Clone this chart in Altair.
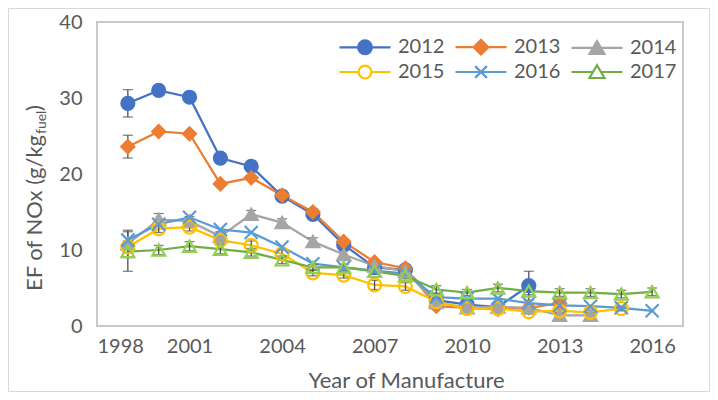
import altair as alt
import pandas as pd

# ---------------- data ----------------
years = list(range(1999, 2017))
series_names = ["2012", "2013", "2014", "2015", "2016", "2017"]

s2012 = [29.3, 31.0, 30.1, 22.1, 21.0, 17.1, 14.7, 10.7, 7.7, 7.4, 3.4, 2.8, 2.5, 5.3]
s2013 = [23.6, 25.6, 25.3, 18.7, 19.5, 17.2, 15.0, 11.1, 8.4, 7.6, 2.6, 2.4, 2.2, 2.4, 3.0]
s2014 = [10.8, 14.0, 13.8, 11.8, 14.7, 13.6, 11.1, 9.4, 7.9, 7.2, 3.1, 2.4, 2.5, 2.4, 1.4, 1.4]
s2015 = [10.4, 12.8, 13.0, 11.3, 10.6, 9.5, 7.0, 6.7, 5.4, 5.2, 3.2, 2.3, 2.3, 1.9, 2.0, 1.8, 2.3]
s2016 = [11.3, 13.4, 14.3, 12.7, 12.3, 10.4, 8.2, 7.7, 7.3, 6.9, 3.8, 3.6, 3.6, 3.0, 2.7, 2.6, 2.4, 2.0]
s2017 = [9.8, 10.0, 10.5, 10.1, 9.7, 8.7, 7.7, 7.7, 7.2, 6.6, 4.8, 4.4, 5.0, 4.6, 4.4, 4.4, 4.2, 4.5]

e2012 = [1.8, 0, 0, 0, 0, 0, 0, 0, 0, 0, 0, 0, 0, 1.9]
e2013 = [1.5, 0, 0, 0, 0, 0, 0, 0, 0, 0, 0, 0, 0, 0, 0]
e2014 = [1.8, 0.8, 0.6, 0.6, 0.5, 0.5, 0.5, 0.5, 0.5, 0.5, 0.5, 0.4, 0.4, 0.4, 0.3, 0.3]
e2015 = [0.8, 0.5, 0.5, 0.5, 0.6, 0.5, 0.4, 0.4, 0.6, 0.5, 0.4, 0.3, 0.3, 0.3, 0.3, 0.3, 0.3]
e2016 = [0] * 18
e2017 = [2.6, 0.6, 0.6, 0.6, 0.5, 0.5, 0.4, 0.4, 0.4, 0.4, 0.5, 0.4, 0.5, 0.5, 0.5, 0.5, 0.5, 0.5]

x_ticks = list(range(1998, 2017, 3))
y_ticks = [0, 10, 20, 30, 40]

# ---------------- styles ----------------
line_colors = ["#4472C4", "#ED7D31", "#A5A5A5", "#FFC000", "#5B9BD5", "#70AD47"]
marker_strokes = ["#4472C4", "#ED7D31", "#A5A5A5", "#FFC000", "#5B9BD5", "#92D050"]
marker_fills = ["#4472C4", "#ED7D31", "#A5A5A5", "transparent", "transparent", "transparent"]
marker_shapes = ["circle", "diamond", "triangle-up", "circle",
                 "M-1,-1L1,1M-1,1L1,-1", "triangle-up"]
legend_fills = ["#4472C4", "#ED7D31", "#A5A5A5", "white", "white", "white"]
legend_strokes = ["#4472C4", "#ED7D31", "#A5A5A5", "#FFC000", "#5B9BD5", "#70AD47"]
# legend symbols: a line through a marker (unit = 7.5 px, line = 51 px long)
legend_paths = [
    "M-3.4,0L-0.92,0M0.92,0L3.4,0M-0.92,0A0.92,0.92,0,1,1,0.92,0A0.92,0.92,0,1,1,-0.92,0Z",
    "M-3.4,0L3.4,0M0,-0.97L0.97,0L0,0.97L-0.97,0Z",
    "M-3.4,0L3.4,0M0,-0.9L1,0.8L-1,0.8Z",
    "M-3.4,0L-0.85,0M0.85,0L3.4,0M-0.85,0A0.85,0.85,0,1,1,0.85,0A0.85,0.85,0,1,1,-0.85,0Z",
    "M-3.4,0L3.4,0M-0.78,-0.78L0.78,0.78M-0.78,0.78L0.78,-0.78",
    "M-3.4,0L-0.53,0M0.53,0L3.4,0M0,-0.9L1,0.8L-1,0.8Z",
]
TXT = "#595959"
FONT = "Lato"
ERR = "#505050"

rows = []
for name, vals, errs in zip(series_names, [s2012, s2013, s2014, s2015, s2016, s2017],
                            [e2012, e2013, e2014, e2015, e2016, e2017]):
    for yr, v, e in zip(years, vals, errs):
        rows.append({"series": name, "year": yr, "value": v, "err": e,
                     "lo": v - e, "hi": v + e})
df = pd.DataFrame(rows)

x_scale = alt.Scale(domain=[1998, 2017], nice=False, zero=False)
y_scale = alt.Scale(domain=[0, 40], nice=False)
x_axis = alt.Axis(values=x_ticks, format="d", title="Year of Manufacture",
                  grid=False, domain=False, ticks=False, tickSize=0,
                  labelFont=FONT, labelFontSize=20, labelColor=TXT,
                  labelBaseline="alphabetic", labelPadding=26,
                  titleFont=FONT, titleFontSize=22, titleColor=TXT,
                  titleFontWeight="normal", titleBaseline="alphabetic",
                  titleX=309, titleY=61, titleAlign="center")
y_axis = alt.Axis(values=y_ticks, title=None, grid=False, domain=False,
                  ticks=False, tickSize=0, labelFont=FONT, labelFontSize=20,
                  labelColor=TXT, labelPadding=15)


def X():
    return alt.X("year:Q", scale=x_scale, axis=x_axis)


def Y(field):
    return alt.Y(f"{field}:Q", scale=y_scale, axis=y_axis)


base = alt.Chart(df)

lines = base.mark_line(strokeWidth=2.25).encode(
    x=X(), y=Y("value"),
    color=alt.Color("series:N", scale=alt.Scale(domain=series_names, range=line_colors),
                    legend=None),
    order="year:Q",
)

errdata = base.transform_filter("datum.err > 0")
err_rule = errdata.mark_rule(color=ERR, strokeWidth=1.3).encode(
    x=X(), y=Y("lo"), y2="hi:Q")
err_lo = errdata.mark_tick(orient="horizontal", size=10, thickness=1.3, color=ERR).encode(
    x=X(), y=Y("lo"))
err_hi = errdata.mark_tick(orient="horizontal", size=10, thickness=1.3, color=ERR).encode(
    x=X(), y=Y("hi"))

markers = base.mark_point(size=169, strokeWidth=2.2, opacity=1).encode(
    x=X(), y=Y("value"),
    shape=alt.Shape("series:N", scale=alt.Scale(domain=series_names, range=marker_shapes),
                    legend=None),
    stroke=alt.Stroke("series:N", scale=alt.Scale(domain=series_names, range=marker_strokes),
                      legend=None),
    fill=alt.Fill("series:N", scale=alt.Scale(domain=series_names, range=marker_fills),
                  legend=None),
)

leg = alt.Legend(title=None, orient="none", direction="horizontal", legendX=258,
                 legendY=15, columns=3, symbolSize=225, symbolStrokeWidth=2.2,
                 labelFont=FONT, labelFontSize=20, labelColor=TXT, labelOffset=23,
                 columnPadding=6, rowPadding=1, padding=0)
legend_layer = base.transform_filter("false").mark_point(opacity=1).encode(
    x=X(), y=Y("value"),
    shape=alt.Shape("series:N", scale=alt.Scale(domain=series_names, range=legend_paths),
                    legend=leg),
    stroke=alt.Stroke("series:N", scale=alt.Scale(domain=series_names, range=legend_strokes),
                      legend=leg),
    fill=alt.Fill("series:N", scale=alt.Scale(domain=series_names, range=legend_fills),
                  legend=leg),
)

one = alt.Chart(pd.DataFrame({"k": [0]}))
ttl_main = one.mark_text(text="EF of NOx (g/kg", angle=270, align="right",
                         baseline="alphabetic", font=FONT, fontSize=22, color=TXT).encode(
    x=alt.value(-55), y=alt.value(113))
ttl_sub = one.mark_text(text="fuel", angle=270, align="left",
                        baseline="alphabetic", font=FONT, fontSize=14, color=TXT).encode(
    x=alt.value(-51), y=alt.value(112))
ttl_end = one.mark_text(text=")", angle=270, align="left",
                        baseline="alphabetic", font=FONT, fontSize=22, color=TXT).encode(
    x=alt.value(-55), y=alt.value(89))
border = one.mark_rect(fill="transparent", stroke="#d9d9d9", strokeWidth=1).encode(
    x=alt.value(-88.5), x2=alt.value(612.5), y=alt.value(-13.5), y2=alt.value(369.5))

chart = alt.layer(
    border, lines, err_rule, err_lo, err_hi, markers, legend_layer,
    ttl_main, ttl_sub, ttl_end,
).resolve_scale(
    shape="independent", stroke="independent", fill="independent"
).properties(
    width=586, height=304,
    padding={"left": 89, "top": 14, "right": 27, "bottom": 66},
    autosize=alt.AutoSizeParams(type="none"),
).configure_view(
    stroke="#c9c9c9", strokeWidth=2
)

chart.save("out.html", embed_options={"renderer": "svg", "actions": False})
